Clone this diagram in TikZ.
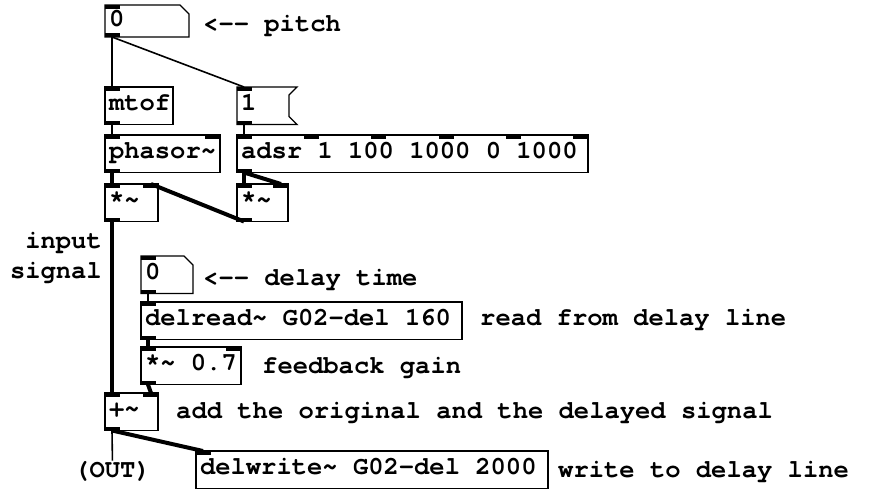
\documentclass[tikz,border=0pt]{standalone}
\usepackage{fontspec}
\setmonofont{TeX Gyre Cursor}
\usetikzlibrary{calc}

\begin{document}
\begin{tikzpicture}[
  x=1pt, y=-1pt,
  font=\ttfamily\bfseries\fontsize{25.5}{30}\selectfont,
  obj/.style   ={draw, line width=1.4pt, anchor=north west, outer sep=0pt, inner xsep=4pt, inner ysep=0pt,
                 minimum height=37.5pt, text height=16.5pt, text depth=6.5pt,
                 execute at begin node={\spaceskip=0.6em\relax}},
  numbox/.style={obj, draw=none},
  msgbox/.style={obj, draw=none},
  cmt/.style   ={anchor=base west, inner sep=0pt},
  ctl/.style   ={line width=1.6pt},
  sig/.style   ={line width=4pt},
]
\useasboundingbox (0,0) rectangle (871,488);

% ---------- oscillator + envelope ----------
\node[numbox, text width=76pt, minimum height=32pt] (pitch) at (105,5) {0};
\node[obj, text width=60pt]     (mtof)   at (105,87)  {mtof};
\node[msgbox, text width=52pt]  (msg)    at (237,87)  {1};
\node[obj, text width=107pt]    (phasor) at (105,135) {phasor\string~};
\node[obj, text width=343pt]    (adsr)   at (237,135) {adsr 1 100 1000 0 1000};
\node[obj, text width=45pt]     (mulL)   at (105,184) {*\string~};
\node[obj, text width=43pt]     (mulR)   at (237,184) {*\string~};

% ---------- delay loop ----------
\node[numbox, text width=44pt]  (delay)    at (141,256) {0};
\node[obj, text width=313pt]    (delread)  at (141,302) {delread\string~ G02-del 160};
\node[obj, text width=92pt]     (gain)     at (141,347) {*\string~ 0.7};
\node[obj, text width=45pt]     (add)      at (105,393) {+\string~};
\node[obj, text width=344pt]    (delwrite) at (196,451) {delwrite\string~ G02-del 2000};

% number boxes (cut corner) and message box (flag)
\foreach \n in {pitch,delay}
  \draw[line width=1.4pt] (\n.north west) -- ($(\n.north east)+(-9,0)$) -- ($(\n.north east)+(0,9)$)
    -- (\n.south east) -- (\n.south west) -- cycle;
\draw[line width=1.4pt] (msg.north west) -- (msg.north east) -- ($(msg.north east)+(-8,8)$)
  -- ($(msg.south east)+(-8,-8)$) -- (msg.south east) -- (msg.south west) -- cycle;

% ---------- inlets (top) and outlets (bottom) ----------
\foreach \n/\k in {pitch/1,mtof/1,msg/1,phasor/2,adsr/6,mulL/2,mulR/2,delay/1,delread/1,gain/2,add/2,delwrite/1}
  \foreach \i in {1,...,\k}{
    \pgfmathsetmacro\f{(\i-1)/max(\k-1,1)}
    \fill ($(\n.north west)!\f!(\n.north east)$) ++(-\f*15,0) rectangle ++(15,4);
  }
\foreach \n in {pitch,mtof,msg,phasor,adsr,mulL,mulR,delay,delread,gain,add}
  \fill (\n.south west) rectangle ++(15,-4);

% ---------- comments ----------
\node[cmt] at (203,31)  {<-- pitch};
\node[cmt] at (203,285) {<-- delay time};
\node[cmt] at (480,325) {read from delay line};
\node[cmt] at (262,373) {feedback gain};
\node[cmt] at (176,418) {add the original and the delayed signal};
\node[cmt] at (558,477) {write to delay line};
\node[cmt] (out) at (74,477) {(OUT)};
\node[anchor=east, align=right, inner sep=0pt] (insig) at (102,258) {input\\signal};

% ---------- connections (thin = control, thick = signal) ----------
\foreach \a/\b in {pitch/mtof,pitch/msg,mtof/phasor,msg/adsr,delay/delread}
  \draw[ctl] ($(\a.south west)+(7,0)$) -- ($(\b.north west)+(7,0)$);
\foreach \a/\b in {phasor/mulL,adsr/mulR,mulL/add,delread/gain,add/delwrite}
  \draw[sig] ($(\a.south west)+(7,0)$) -- ($(\b.north west)+(7,0)$);
\foreach \a/\b in {adsr/mulR,mulR/mulL,gain/add}
  \draw[sig] ($(\a.south west)+(7,0)$) -- ($(\b.north east)+(-7,0)$);
\draw[ctl] ($(add.south west)+(7,0)$) -- (out.north);

\end{tikzpicture}
\end{document}
